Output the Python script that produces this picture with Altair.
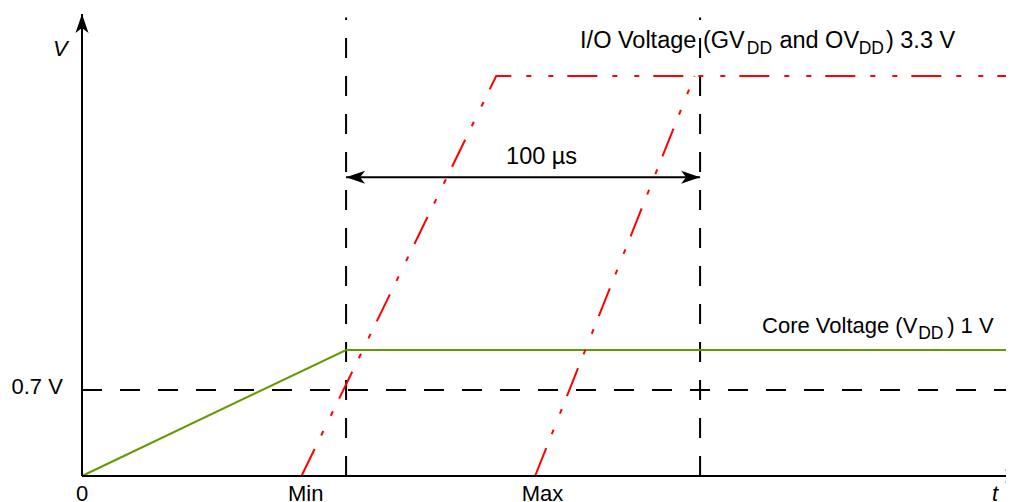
import altair as alt
import pandas as pd

# ---------------- data (time in µs, voltage in V) ----------------
guide_times = [74.6, 174.6]          # vertical dashed markers (100 µs apart)
guide_top = 3.79
ref_level = 0.7                      # horizontal dashed level
ref_end = 263.3

core_t = [0, 74.6, 263.3]            # Core voltage (VDD) 1 V
core_v = [0, 1.0, 1.0]

io_min_t = [62, 117, 263.3]          # I/O voltage, earliest ramp
io_min_v = [0, 3.3, 3.3]
io_max_t = [128, 173]                # I/O voltage, latest ramp
io_max_v = [0, 3.3]

span_t = [74.6, 174.6]               # 100 µs dimension arrow
span_v = 2.45

axis_t_end = 266.1
axis_v_top = 3.82

tick_text = ["0", "Min", "Max"]
tick_t = [0, 63.2, 130.1]

top_pieces = ["I/O Voltage (GV", "DD", "and OV", "DD", ") 3.3 V"]
top_pieces_t = [140.7, 187.8, 197.0, 219.4, 227.1]
top_is_sub = [False, True, False, True, False]

core_pieces = ["Core Voltage (V", "DD", ") 1 V"]
core_pieces_t = [192.1, 236.2, 244.4]
core_is_sub = [False, True, False]

# ---------------- layout ----------------
PX_PER_US = 3.54
X0 = 74
W, H = 998, 494
FONT = "Liberation Sans"

xs = alt.Scale(domain=[-X0 / PX_PER_US, (W - X0) / PX_PER_US], nice=False, zero=False)
ys = alt.Scale(domain=[0, 0.7, 1, 3.3, 3.82], range=[468, 382, 342, 68, 6], nice=False, zero=False)


def X(f="t"):
    return alt.X(f"{f}:Q", scale=xs, axis=None)


def Y(f="v"):
    return alt.Y(f"{f}:Q", scale=ys, axis=None)


# dashed guides
guides = pd.DataFrame(
    [{"t": g, "t2": g, "v": 0, "v2": guide_top} for g in guide_times]
    + [{"t": 0, "t2": ref_end, "v": ref_level, "v2": ref_level}]
)
guide_layer = alt.Chart(guides).mark_rule(
    color="black", strokeWidth=2, strokeDash=[20, 18]
).encode(x=X(), x2="t2:Q", y=Y(), y2="v2:Q")

core_df = pd.DataFrame({"t": core_t, "v": core_v})
core_layer = alt.Chart(core_df).mark_line(color="#669900", strokeWidth=2).encode(x=X(), y=Y())

io_df = pd.concat([
    pd.DataFrame({"t": io_min_t, "v": io_min_v, "s": "min"}),
    pd.DataFrame({"t": io_max_t, "v": io_max_v, "s": "max"}),
])
io_layer = alt.Chart(io_df).mark_line(
    color="#ff0000", strokeWidth=2, strokeDash=[30, 15, 5, 17, 5, 14]
).encode(x=X(), y=Y(), detail="s:N", order="t:Q")

# axes
axes_df = pd.DataFrame([
    {"t": 0, "t2": axis_t_end, "v": 0, "v2": 0},
    {"t": 0, "t2": 0, "v": 0, "v2": axis_v_top},
    {"t": span_t[0], "t2": span_t[1], "v": span_v, "v2": span_v},
])
axes_layer = alt.Chart(axes_df).mark_rule(color="black", strokeWidth=2).encode(
    x=X(), x2="t2:Q", y=Y(), y2="v2:Q"
)

ARROW = "M0,0 L0.65,1.9 L0,1.4 L-0.65,1.9 Z"
heads_df = pd.DataFrame([
    {"t": 0, "v": axis_v_top, "ang": 0},
    {"t": axis_t_end, "v": 0, "ang": 90},
    {"t": span_t[0], "v": span_v, "ang": 270},
    {"t": span_t[1], "v": span_v, "ang": 90},
])
heads_layer = alt.Chart(heads_df).mark_point(
    shape=ARROW, filled=True, fill="black", strokeWidth=0, opacity=1, size=400
).encode(x=X(), y=Y(), angle=alt.Angle("ang:Q", scale=None))


# texts
def text_layer(df, **kw):
    base = dict(font=FONT, color="black", fontSize=22)
    base.update(kw)
    return alt.Chart(df).mark_text(**base).encode(x=X(), y=Y(), text="txt:N")


ticks_df = pd.DataFrame({"t": tick_t, "v": [0] * 3, "txt": tick_text})
ticks_layer = text_layer(ticks_df, align="center", baseline="alphabetic", dy=25)

t_lbl = text_layer(pd.DataFrame({"t": [257.9], "v": [0], "txt": ["t"]}),
                   align="center", baseline="alphabetic", dy=25, fontStyle="italic")
v_lbl = text_layer(pd.DataFrame({"t": [-6.1], "v": [axis_v_top], "txt": ["V"]}),
                   align="center", baseline="alphabetic", dy=42, fontStyle="italic")
lvl_lbl = text_layer(pd.DataFrame({"t": [-5.4], "v": [ref_level], "txt": ["0.7 V"]}),
                     align="right", baseline="alphabetic", dy=4)
span_lbl = text_layer(pd.DataFrame({"t": [119.8], "v": [span_v], "txt": ["100 µs"]}),
                      align="left", baseline="alphabetic", dy=-13, fontSize=23.5)


def piece_layers(pieces, pos, subs, level, dy_main, dy_sub, size_main, size_sub):
    main = pd.DataFrame({"t": [p for p, s in zip(pos, subs) if not s],
                         "v": level, "txt": [t for t, s in zip(pieces, subs) if not s]})
    sub = pd.DataFrame({"t": [p for p, s in zip(pos, subs) if s],
                        "v": level, "txt": [t for t, s in zip(pieces, subs) if s]})
    return [
        text_layer(main, align="left", baseline="alphabetic", dy=dy_main, fontSize=size_main),
        text_layer(sub, align="left", baseline="alphabetic", dy=dy_sub, fontSize=size_sub),
    ]


top_layers = piece_layers(top_pieces, top_pieces_t, top_is_sub, 3.3, -28, -22, 23.5, 17.5)
core_layers = piece_layers(core_pieces, core_pieces_t, core_is_sub, 1.0, -17, -11, 22, 17.5)

chart = alt.layer(
    guide_layer, core_layer, io_layer, axes_layer, heads_layer,
    ticks_layer, t_lbl, v_lbl, lvl_lbl, span_lbl, *top_layers, *core_layers,
).properties(
    width=W, height=H, padding=0, autosize=alt.AutoSizeParams(type="none"),
    background="white",
).configure_view(stroke=None)

chart.save("out.html", embed_options={"renderer": "svg", "actions": False})
